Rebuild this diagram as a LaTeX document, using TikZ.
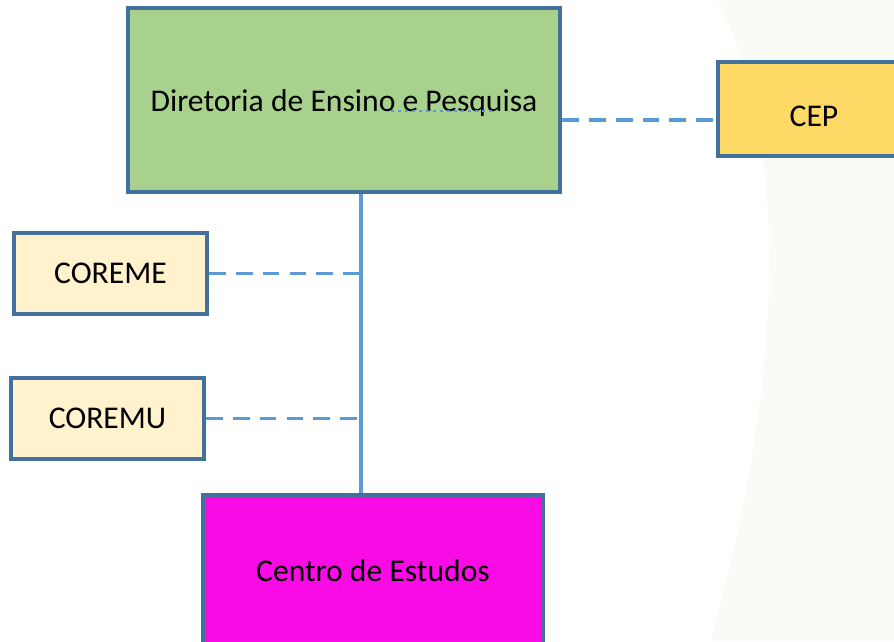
\documentclass[tikz,border=0pt]{standalone}
\usepackage{fontspec}
\setmainfont{Carlito}
\usepackage{xcolor}
\usetikzlibrary{positioning, calc}
\definecolor{oborder}{HTML}{41719C}
\definecolor{oline}{HTML}{5B9BD5}
\definecolor{ogreen}{HTML}{A9D18E}
\definecolor{oyellow}{HTML}{FFD966}
\definecolor{ocream}{HTML}{FFF2CC}
\definecolor{omagenta}{HTML}{F90BE6}
\definecolor{obg}{HTML}{FBFBF5}

\begin{document}
\begin{tikzpicture}[x=1cm, y=1cm,
  unitbox/.style={draw=oborder, line width=2.1pt, inner sep=0pt, font=\fontsize{18}{21}\selectfont, text=black},
  conline/.style={draw=oline, line width=2pt},
  dashline/.style={conline, dash pattern=on 9.6pt off 5.7pt}]
\clip (0,0) rectangle (17.88,12.82);
\fill[white] (0,0) rectangle (17.88,12.82);
\fill[obg] (14.34,12.82) .. controls (15.6,10.5) and (15.9,6.0) .. (14.2,0) -- (17.88,0) -- (17.88,12.82) -- cycle;
% boxes
\node[unitbox, fill=ogreen, minimum width=8.64cm, minimum height=3.68cm] (dir) at (6.88,10.82) {\raisebox{-0.07cm}[\height][\depth]{Diretoria de Ensino e Pesquisa}};
\node[unitbox, fill=oyellow, minimum width=3.84cm, minimum height=1.88cm] (cep) at (16.28,10.64) {\raisebox{-0.14cm}[\height][\depth]{CEP}};
\node[unitbox, fill=ocream, minimum width=3.86cm, minimum height=1.62cm] (coreme) at (2.21,7.35) {COREME};
\node[unitbox, fill=ocream, minimum width=3.86cm, minimum height=1.62cm] (coremu) at (2.15,4.45) {COREMU};
\node[unitbox, fill=omagenta, minimum width=6.80cm, minimum height=3.04cm] (centro) at (7.46,1.40) {Centro de Estudos};
% connectors
\coordinate (trunk) at (7.22,0);
\path (cep.west) ++(0,-0.22) coordinate (cepin);
\draw[conline] (dir.south -| trunk) -- (centro.north -| trunk);
\draw[dashline] (dir.east |- cepin) -- (cepin);
\draw[dashline] (coreme.east) -- ($(coreme.east -| trunk)+(0.08,0)$);
\draw[dashline] (coremu.east) -- (coremu.east -| trunk);
% marca sob o texto
\draw[oline, line width=1.6pt, dash pattern=on 1.6pt off 2.4pt] ($(dir.center)+(0.94,-0.22)$) -- ($(dir.center)+(2.98,-0.22)$);
\end{tikzpicture}
\end{document}
